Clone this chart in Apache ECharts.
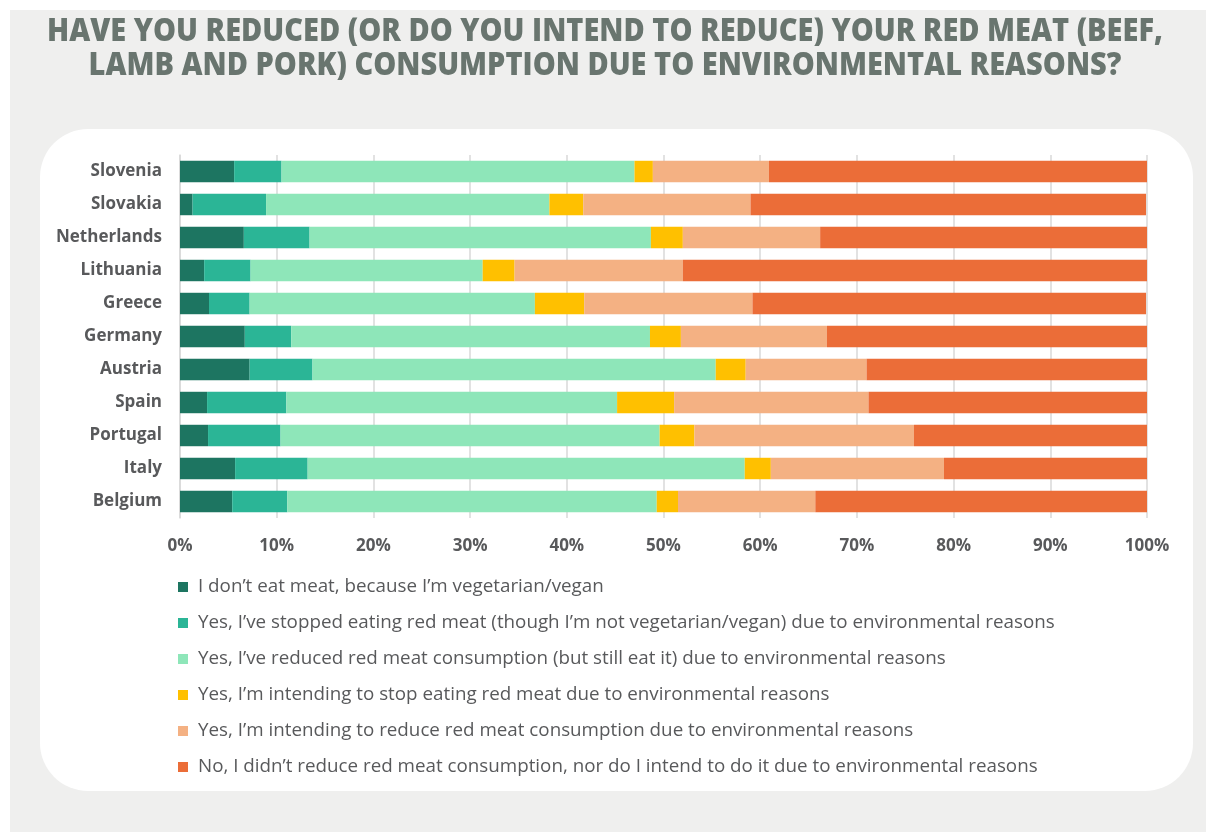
<!DOCTYPE html>
<html>
<head>
<meta charset="utf-8">
<script src="https://cdn.jsdelivr.net/npm/echarts@6/dist/echarts.min.js"></script>
<style>
  html, body { margin: 0; padding: 0; background: #ffffff; }
  #chart { width: 1206px; height: 832px; }
</style>
</head>
<body>
<div id="chart"></div>
<script>
// Countries, top to bottom
const countries = ['Slovenia', 'Slovakia', 'Netherlands', 'Lithuania', 'Greece', 'Germany',
                   'Austria', 'Spain', 'Portugal', 'Italy', 'Belgium'];

// Answer categories
const answers = [
  'I don\u2019t eat meat, because I\u2019m vegetarian/vegan',
  'Yes, I\u2019ve stopped eating red meat (though I\u2019m not vegetarian/vegan) due to environmental reasons',
  'Yes, I\u2019ve reduced red meat consumption (but still eat it) due to environmental reasons',
  'Yes, I\u2019m intending to stop eating red meat due to environmental reasons',
  'Yes, I\u2019m intending to reduce red meat consumption due to environmental reasons',
  'No, I didn\u2019t reduce red meat consumption, nor do I intend to do it due to environmental reasons'
];

// Shares (%) per answer, in the country order above
const vegetarian     = [5.6, 1.3, 6.6, 2.5, 3.0, 6.7, 7.2, 2.8, 2.9, 5.7, 5.4];
const stoppedRed     = [4.9, 7.6, 6.8, 4.8, 4.2, 4.8, 6.5, 8.2, 7.5, 7.5, 5.7];
const reducedRed     = [36.5, 29.3, 35.3, 24.0, 29.5, 37.1, 41.7, 34.2, 39.2, 45.2, 38.2];
const intendStop     = [1.9, 3.5, 3.3, 3.3, 5.1, 3.2, 3.1, 5.9, 3.6, 2.7, 2.2];
const intendReduce   = [12.0, 17.3, 14.2, 17.4, 17.4, 15.1, 12.5, 20.1, 22.7, 17.9, 14.2];
const noReduction    = [39.1, 40.9, 33.9, 48.0, 40.7, 33.1, 29.0, 28.8, 24.1, 21.0, 34.3];

const seriesValues = [vegetarian, stoppedRed, reducedRed, intendStop, intendReduce, noReduction];
const colors = ['#1d7561', '#2bb596', '#8ee6b9', '#ffc000', '#f4b183', '#eb6d38'];

const xTicks = [0, 10, 20, 30, 40, 50, 60, 70, 80, 90, 100];

const titleLines = [
  'HAVE YOU REDUCED (OR DO YOU INTEND TO REDUCE) YOUR RED MEAT (BEEF,',
  'LAMB AND PORK) CONSUMPTION DUE TO ENVIRONMENTAL REASONS?'
];

const textGrey = '#58595b';
const titleFont = '800 32px "Open Sans", sans-serif';

// Heavy headline is set condensed: squeeze the first line to its column width
const measureCtx = document.createElement('canvas').getContext('2d');
measureCtx.font = titleFont;
const titleScale = 1116 / measureCtx.measureText(titleLines[0]).width;

const chart = echarts.init(document.getElementById('chart'), null, { renderer: 'canvas' });

chart.setOption({
  backgroundColor: '#ffffff',
  animation: false,
  graphic: [
    { type: 'rect', z: -10, silent: true,
      shape: { x: 10, y: 10, width: 1196, height: 822 },
      style: { fill: '#efefee' } },
    { type: 'rect', z: -9, silent: true,
      shape: { x: 40, y: 129, width: 1153, height: 662, r: 48 },
      style: { fill: '#ffffff' } },
    ...titleLines.map((line, i) => ({
      type: 'text', z: 10, silent: true,
      x: 605, y: 32 + i * 34,
      scaleX: titleScale,
      style: {
        text: line,
        font: titleFont,
        fill: '#69756f',
        align: 'center',
        verticalAlign: 'middle'
      }
    }))
  ],
  legend: {
    orient: 'vertical',
    left: 178,
    top: 577,
    padding: 0,
    itemWidth: 10,
    itemHeight: 10,
    itemGap: 16,
    icon: 'rect',
    selectedMode: false,
    data: answers,
    textStyle: {
      fontFamily: '"Open Sans", sans-serif',
      fontWeight: 500,
      fontSize: 18.8,
      lineHeight: 20,
      color: textGrey,
      padding: [0, 0, 0, 5]
    }
  },
  grid: {
    left: 180,
    right: 59,
    top: 155,
    height: 363,
    containLabel: false
  },
  xAxis: {
    type: 'value',
    min: 0,
    max: 100,
    interval: 10,
    axisLine: { show: false },
    axisTick: { show: false },
    splitLine: { show: true, lineStyle: { color: '#d9d9d9', width: 1.5 } },
    axisLabel: {
      margin: 20,
      formatter: v => (xTicks.indexOf(v) >= 0 ? v + '%' : ''),
      fontFamily: '"Open Sans", sans-serif',
      fontWeight: 'bold',
      fontSize: 17,
      color: textGrey
    }
  },
  yAxis: {
    type: 'category',
    inverse: true,
    data: countries,
    axisLine: { show: true, lineStyle: { color: '#d9d9d9', width: 1.5 } },
    axisTick: { show: false },
    axisLabel: {
      margin: 18,
      fontFamily: '"Open Sans", sans-serif',
      fontWeight: 'bold',
      fontSize: 17,
      color: textGrey
    }
  },
  series: answers.map((name, i) => ({
    name: name,
    type: 'bar',
    stack: 'total',
    barCategoryGap: '35%',
    data: seriesValues[i],
    itemStyle: { color: colors[i] },
    emphasis: { disabled: true }
  }))
});
</script>
</body>
</html>
